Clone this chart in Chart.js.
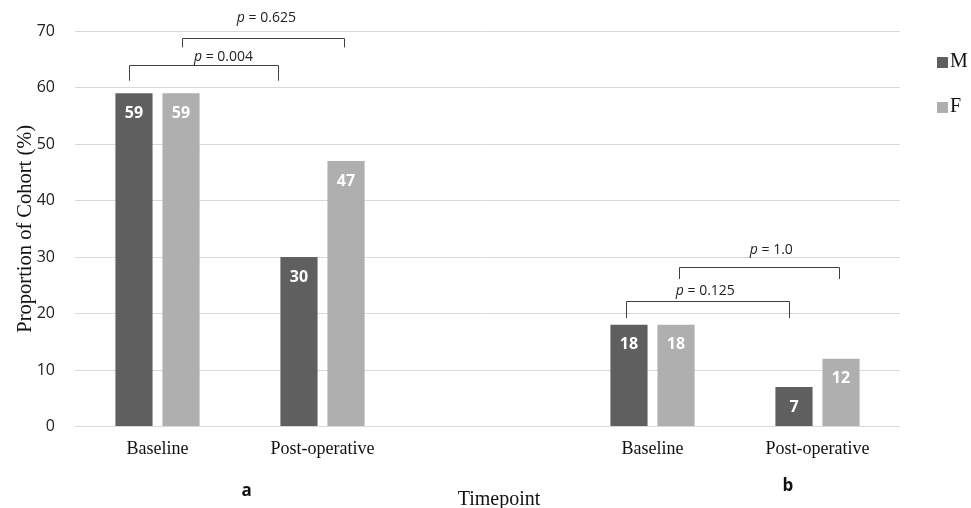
<!DOCTYPE html>
<html>
<head>
<meta charset="utf-8">
<script src="https://cdn.jsdelivr.net/npm/chart.js@4/dist/chart.umd.min.js"></script>
<style>
  html, body { margin: 0; padding: 0; background: #fff; }
  #wrap { width: 971px; height: 508px; }
</style>
</head>
<body>
<div id="wrap"><canvas id="chart"></canvas></div>
<script>
// ── Datos ─────────────────────────────────────────────────────────────
const categorias = ["Baseline", "Post-operative", "", "Baseline", "Post-operative"];
const series     = ["M", "F"];
const valoresM   = [59, 30, null, 18, 7];
const valoresF   = [59, 47, null, 18, 12];
const yMin = 0, yMax = 70, yPaso = 10;

// corchetes de comparación (x en índice de categoría, y en % del eje)
const pValores      = ["0.004", "0.625", "0.125", "1.0"];
const corcheteDesde = [-0.17, 0.15, 2.84, 3.16];
const corcheteHasta = [0.73, 1.13, 3.83, 4.13];
const corcheteTope  = [63.9, 68.8, 22.3, 28.2];
const corchetePata  = [61.2, 67.1, 19.2, 26.1];
const pTextoX       = [0.40, 0.66, 3.32, 3.72];
const pTextoY       = [65.4, 72.3, 23.9, 31.2];

const paneles  = ["a", "b"];
const panelesX = [0.54, 3.82];
const tituloX  = "Timepoint";

const COLORES = ["#5f5f5f", "#afafaf"];
const SANS  = "'Open Sans', 'Noto Sans', sans-serif";
const SERIF = "'Liberation Serif', 'DejaVu Serif', serif";

const anotaciones = {
    id: "anotaciones",
    afterDatasetsDraw(chart) {
        const { ctx, chartArea, scales: { x, y } } = chart;
        ctx.save();

        // valores dentro de las barras
        ctx.fillStyle = "#ffffff";
        ctx.font = `bold 16px ${SANS}`;
        ctx.textAlign = "center";
        ctx.textBaseline = "middle";
        chart.data.datasets.forEach((ds, i) => {
            chart.getDatasetMeta(i).data.forEach((bar, j) => {
                const v = ds.data[j];
                if (v === null || v === undefined) return;
                ctx.fillText(String(v), bar.x, bar.y + 20);
            });
        });

        // corchetes
        ctx.strokeStyle = "#404040";
        ctx.lineWidth = 1;
        pValores.forEach((p, k) => {
            const x1 = Math.round(x.getPixelForValue(corcheteDesde[k])) + 0.5;
            const x2 = Math.round(x.getPixelForValue(corcheteHasta[k])) + 0.5;
            const yt = Math.round(y.getPixelForValue(corcheteTope[k])) + 0.5;
            const yl = y.getPixelForValue(corchetePata[k]);
            ctx.beginPath();
            ctx.moveTo(x1, yl);
            ctx.lineTo(x1, yt);
            ctx.lineTo(x2, yt);
            ctx.lineTo(x2, yl);
            ctx.stroke();

            // texto "p = ..."
            const cx = x.getPixelForValue(pTextoX[k]);
            const cy = y.getPixelForValue(pTextoY[k]);
            const resto = " = " + p;
            ctx.font = `italic 14px ${SANS}`;
            const wp = ctx.measureText("p").width;
            ctx.font = `14px ${SANS}`;
            const wr = ctx.measureText(resto).width;
            const x0 = cx - (wp + wr) / 2;
            ctx.fillStyle = "#222";
            ctx.textAlign = "left";
            ctx.font = `italic 14px ${SANS}`;
            ctx.fillText("p", x0, cy);
            ctx.font = `14px ${SANS}`;
            ctx.fillText(resto, x0 + wp, cy);
        });

        // etiquetas de panel
        ctx.fillStyle = "#111";
        ctx.font = `bold 17px ${SANS}`;
        ctx.textAlign = "center";
        ctx.textBaseline = "alphabetic";
        paneles.forEach((t, k) => {
            ctx.fillText(t, x.getPixelForValue(panelesX[k]), chartArea.bottom + (k === 0 ? 69 : 64));
        });

        // título del eje x (algo desplazado a la derecha, como en el original)
        ctx.font = `20px ${SERIF}`;
        ctx.fillText(tituloX, (chartArea.left + chartArea.right) / 2 + 11.5, chartArea.bottom + 78.5);

        // leyenda
        ctx.textAlign = "left";
        ctx.textBaseline = "middle";
        chart.data.datasets.forEach((ds, i) => {
            const ly = chartArea.top + 31 + i * 45;
            ctx.fillStyle = ds.backgroundColor;
            ctx.fillRect(chartArea.right + 37, ly - 5, 11, 11);
            ctx.fillStyle = "#111";
            ctx.fillText(ds.label, chartArea.right + 50, ly);
        });

        ctx.restore();
    }
};

new Chart(document.getElementById("chart"), {
    type: "bar",
    data: {
        labels: categorias,
        datasets: [
            { label: series[0], data: valoresM, backgroundColor: COLORES[0] },
            { label: series[1], data: valoresF, backgroundColor: COLORES[1] },
        ]
    },
    options: {
        responsive: true,
        maintainAspectRatio: false,
        animation: false,
        categoryPercentage: 0.57,
        barPercentage: 0.79,
        layout: { padding: { top: 31, right: 71, left: 0, bottom: 0 } },
        plugins: {
            legend: { display: false },
            tooltip: { enabled: false }
        },
        scales: {
            x: {
                grid: { display: false, drawTicks: false },
                border: { display: false },
                ticks: { color: "#111", font: { family: SERIF, size: 18 }, padding: 12, maxRotation: 0, autoSkip: false },
                afterFit(s) { s.height = 81.5; }
            },
            y: {
                min: yMin,
                max: yMax,
                ticks: { stepSize: yPaso, color: "#222", font: { family: SANS, size: 16 }, padding: 20 },
                grid: { color: "#d9d9d9", drawTicks: false },
                border: { display: false },
                title: { display: true, text: "Proportion of Cohort (%)", color: "#111", font: { family: SERIF, size: 20.5 }, padding: { top: 13, bottom: 0 } },
                afterFit(s) { s.width = 75; }
            }
        }
    },
    plugins: [anotaciones]
});
</script>
</body>
</html>
